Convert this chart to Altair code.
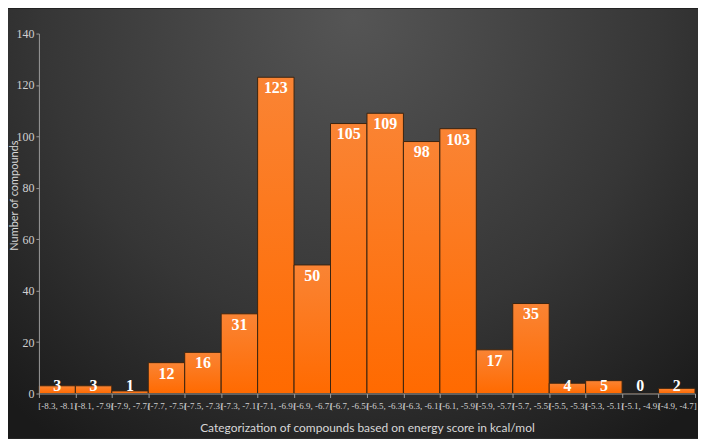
import altair as alt
import pandas as pd

categories = ["[-8.3, -8.1]", "(-8.1, -7.9]", "(-7.9, -7.7]", "(-7.7, -7.5]", "(-7.5, -7.3]",
              "(-7.3, -7.1]", "(-7.1, -6.9]", "(-6.9, -6.7]", "(-6.7, -6.5]", "(-6.5, -6.3]",
              "(-6.3, -6.1]", "(-6.1, -5.9]", "(-5.9, -5.7]", "(-5.7, -5.5]", "(-5.5, -5.3]",
              "(-5.3, -5.1]", "(-5.1, -4.9]", "(-4.9, -4.7]"]
counts = [3, 3, 1, 12, 16, 31, 123, 50, 105, 109, 98, 103, 17, 35, 4, 5, 0, 2]

df = pd.DataFrame({"cat": categories, "n": counts})

W, H = 658, 361
PL, PT, PR, PB = 31, 25, 3, 45

bg_grad = alt.RadialGradient(
    gradient="radial", x1=0.5, y1=0.2, r1=0, x2=0.5, y2=0.2, r2=0.75,
    stops=[alt.GradientStop(offset=0, color="#555555"),
           alt.GradientStop(offset=0.6, color="#363636"),
           alt.GradientStop(offset=1, color="#1a1a1a")])

bar_grad = alt.LinearGradient(
    gradient="linear", x1=0, y1=0, x2=0, y2=1,
    stops=[alt.GradientStop(offset=0, color="#FA8434"),
           alt.GradientStop(offset=1, color="#FF6A00")])

background = alt.Chart(pd.DataFrame({"a": [0]})).mark_rect(
    fill=bg_grad, clip=False
).encode(
    x=alt.value(-PL), x2=alt.value(W + PR),
    y=alt.value(-PT), y2=alt.value(H + PB)
)

xenc = alt.X("cat:N", sort=categories,
             scale=alt.Scale(paddingInner=0, paddingOuter=0),
             axis=alt.Axis(title="Categorization of compounds based on energy score in kcal/mol",
                           labelAngle=0, labelFont="Liberation Serif", labelFontSize=9,
                           labelColor="#d0d0d0", labelOverlap=False, labelPadding=4,
                           tickBand="extent", tickSize=4, tickColor="#9a9a9a",
                           domainColor="#9a9a9a", zindex=1,
                           titleFont="Lato", titleFontSize=12, titleFontWeight="normal",
                           titleColor="#d8d8d8", titlePadding=12))

bars = alt.Chart(df).mark_bar(
    fill=bar_grad, stroke="#3a2410", strokeWidth=1
).encode(
    x=xenc,
    y=alt.Y("n:Q", scale=alt.Scale(domain=[0, 140]),
            axis=alt.Axis(title="Number of compounds", values=[0, 20, 40, 60, 80, 100, 120, 140],
                          grid=False, labelFont="Liberation Serif", labelFontSize=12,
                          labelColor="#d0d0d0", tickSize=3, tickColor="#9a9a9a",
                          domainColor="#9a9a9a", labelPadding=2, zindex=1,
                          titleFont="Lato", titleFontSize=11, titleFontWeight="normal",
                          titleColor="#d8d8d8", titleX=-24, titleY=162,
                          titleAlign="center", titleBaseline="middle", titleAngle=270))
)

labels = alt.Chart(df).transform_calculate(
    pos="max(datum.n, 7)"
).mark_text(
    font="Liberation Serif", fontWeight="bold", fontSize=16, color="white",
    baseline="middle", dy=11
).encode(
    x=alt.X("cat:N", sort=categories),
    y=alt.Y("pos:Q"),
    text="n:Q"
)

chart = alt.layer(background, bars, labels).properties(
    width=W, height=H,
    autosize=alt.AutoSizeParams(type="none"),
    padding={"left": PL, "top": PT, "right": PR, "bottom": PB},
    background="#1f1f1f"
).configure_view(stroke=None)

chart.save("out.html", embed_options={"renderer": "svg", "actions": False})
